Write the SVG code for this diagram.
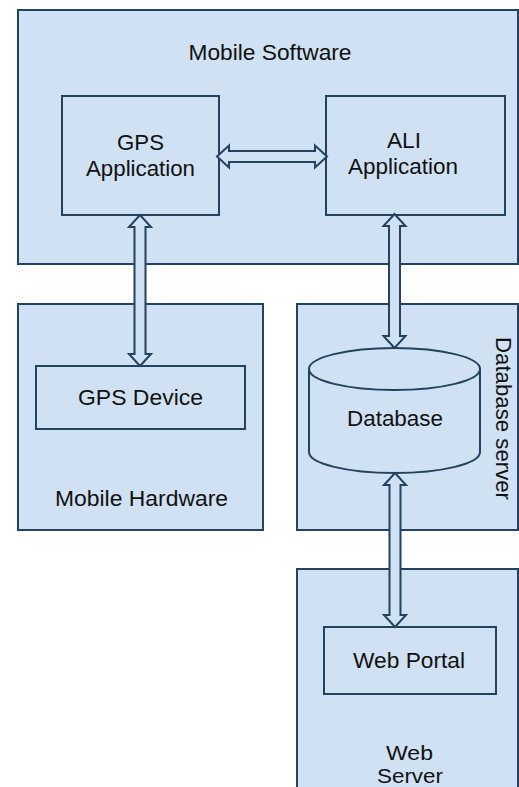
<svg xmlns="http://www.w3.org/2000/svg" width="519" height="787" viewBox="0 0 519 787">
<style>
.box{fill:#cfe1f2;stroke:#23425f;stroke-width:2}
.arr{fill:#cfe1f2;stroke:#23425f;stroke-width:2;stroke-linejoin:miter}
text{font-family:"Liberation Sans",Arial,sans-serif;font-size:22px;fill:#111;text-anchor:middle}
.sm{font-size:20px}
</style>
<rect width="519" height="787" fill="#ffffff"/>
<g id="mobile-software">
<rect class="box" x="18" y="10" width="500" height="254"/>
<text x="270" y="60" textLength="163" lengthAdjust="spacingAndGlyphs">Mobile Software</text>
</g>
<g id="gps-application">
<rect class="box" x="62" y="96" width="157" height="119"/>
<text x="140.5" y="150" textLength="47" lengthAdjust="spacingAndGlyphs">GPS</text>
<text x="140.5" y="176" textLength="109" lengthAdjust="spacingAndGlyphs">Application</text>
</g>
<g id="ali-application">
<rect class="box" x="326" y="96" width="179" height="119"/>
<text x="404" y="148" textLength="34" lengthAdjust="spacingAndGlyphs">ALI</text>
<text x="403" y="174" textLength="110" lengthAdjust="spacingAndGlyphs">Application</text>
</g>
<g id="mobile-hardware">
<rect class="box" x="18" y="304" width="245" height="226"/>
<text x="141.5" y="506" textLength="173" lengthAdjust="spacingAndGlyphs">Mobile Hardware</text>
</g>
<g id="gps-device">
<rect class="box" x="36" y="366" width="209" height="63"/>
<text x="140.5" y="405" textLength="125" lengthAdjust="spacingAndGlyphs">GPS Device</text>
</g>
<g id="database-server">
<rect class="box" x="297" y="304" width="221" height="226"/>
<text transform="translate(496,418.5) rotate(90)" x="0" y="0" textLength="163" lengthAdjust="spacingAndGlyphs">Database server</text>
</g>
<g id="database">
<path class="box" d="M309,369 L309,452 A85.5,21 0 0 0 480,452 L480,369"/>
<ellipse class="box" cx="394.5" cy="369" rx="85.5" ry="21"/>
<text x="395" y="426" textLength="96" lengthAdjust="spacingAndGlyphs">Database</text>
</g>
<g id="web-server">
<rect class="box" x="297" y="569" width="221" height="230"/>
<text class="sm" x="409.5" y="760" textLength="47" lengthAdjust="spacingAndGlyphs">Web</text>
<text class="sm" x="410" y="783" textLength="66" lengthAdjust="spacingAndGlyphs">Server</text>
</g>
<g id="web-portal">
<rect class="box" x="324" y="627" width="172" height="67"/>
<text x="409" y="668" textLength="112" lengthAdjust="spacingAndGlyphs">Web Portal</text>
</g>
<g id="connectors">
<path class="arr" d="M217,156.5 L229,145.5 L229,151 L315,151 L315,145.5 L327,156.5 L315,167.5 L315,162 L229,162 L229,167.5 Z"/>
<path class="arr" d="M140,215 L151,227 L145.5,227 L145.5,354 L151,354 L140,366 L129,354 L134.5,354 L134.5,227 L129,227 Z"/>
<path class="arr" d="M394.5,214 L405.5,226 L400,226 L400,336 L405.5,336 L394.5,348 L383.5,336 L389,336 L389,226 L383.5,226 Z"/>
<path class="arr" d="M395,473 L406,485 L400.5,485 L400.5,615 L406,615 L395,627 L384,615 L389.5,615 L389.5,485 L384,485 Z"/>
</g>
</svg>
